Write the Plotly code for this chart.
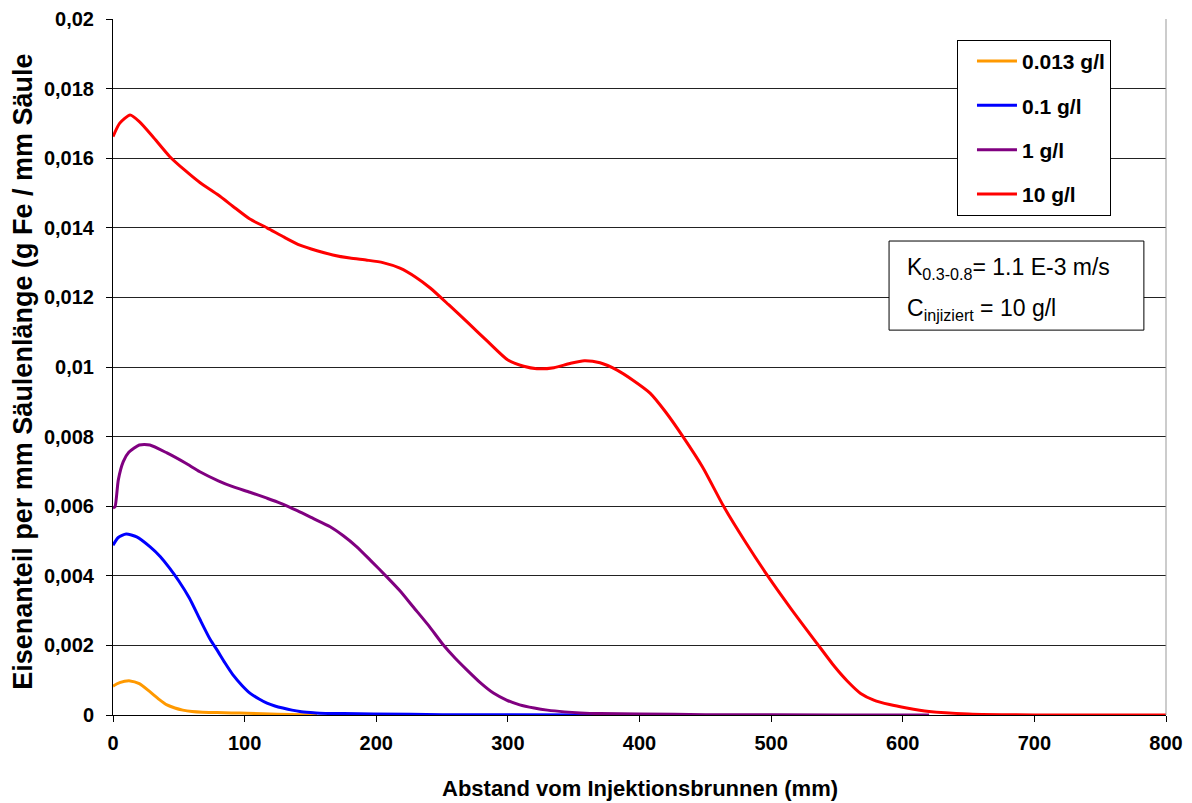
import plotly.graph_objects as go

# ---- data ----
series_names = ["0.013 g/l", "0.1 g/l", "1 g/l", "10 g/l"]
series_colors = ["#FF9900", "#0000FF", "#800080", "#FF0000"]

x_0013 = [0, 5, 13, 20, 28, 35, 41, 47, 53, 60, 68, 79, 90, 102, 125, 155]
y_0013 = [0.00083, 0.00093, 0.00098, 0.00090, 0.00067, 0.00045, 0.00029, 0.00020,
          0.00014, 0.00010, 0.00008, 0.00007, 0.00006, 0.00005, 0.00002, 0.0]

x_01 = [0, 4, 10, 18, 28, 36, 43, 50, 58, 66, 74, 79, 85, 91, 98, 104, 111, 117,
        123, 129, 136, 142, 150, 157, 175, 198, 250, 400]
y_01 = [0.00488, 0.00510, 0.00520, 0.00512, 0.00484, 0.00455, 0.00422, 0.00385,
        0.00336, 0.00275, 0.00216, 0.00187, 0.00150, 0.00116, 0.00085, 0.00063,
        0.00046, 0.00034, 0.00026, 0.00020, 0.00014, 0.00010, 0.00007, 0.00005,
        0.00004, 0.00003, 0.00001, 0.0]

x_1 = [0, 1.5, 4, 7.8, 12, 20, 28, 41, 55, 66, 80, 91, 104, 117, 127, 140, 152,
       165, 175, 185, 196, 208, 218, 228, 240, 251, 260, 269, 279, 289, 299, 309,
       320, 330, 343, 355, 370, 400, 450, 550, 620]
y_1 = [0.00595, 0.00598, 0.00675, 0.00728, 0.00755, 0.00776, 0.00776, 0.00753,
       0.00724, 0.00699, 0.00673, 0.00656, 0.00640, 0.00623, 0.00609, 0.00587,
       0.00565, 0.00541, 0.00515, 0.00484, 0.00443, 0.00397, 0.00357, 0.00311,
       0.00256, 0.00201, 0.00163, 0.00129, 0.00093, 0.00063, 0.00043, 0.00029,
       0.00020, 0.00014, 0.00009, 0.00006, 0.00004, 0.00003, 0.00001, 0.0, 0.0]

x_10 = [0, 5, 13, 20, 30, 43, 55, 66, 80, 91, 104, 117, 130, 142, 155, 167, 180,
        193, 205, 218, 230, 241, 255, 270, 285, 300, 312, 322, 335, 347, 358, 370,
        383, 395, 408, 420, 433, 448, 464, 480, 497, 515, 535, 548, 558, 568, 578,
        590, 603, 620, 650, 700, 800]
y_10 = [0.01662, 0.01700, 0.01724, 0.01705, 0.01663, 0.01605, 0.01564, 0.01530,
        0.01494, 0.01462, 0.01425, 0.01400, 0.01373, 0.01350, 0.01334, 0.01322,
        0.01313, 0.01307, 0.01300, 0.01284, 0.01258, 0.01227, 0.01179, 0.01126,
        0.01072, 0.01020, 0.01002, 0.00995, 0.00998, 0.01010, 0.01018, 0.01012,
        0.00991, 0.00962, 0.00925, 0.00870, 0.00800, 0.00712, 0.00599, 0.00500,
        0.00402, 0.00306, 0.00205, 0.00140, 0.00097, 0.00062, 0.00043, 0.00030,
        0.00020, 0.00010, 0.00003, 0.0, 0.0]

xs = [x_0013, x_01, x_1, x_10]
ys = [y_0013, y_01, y_1, y_10]

y_tickvals = [0, 0.002, 0.004, 0.006, 0.008, 0.01, 0.012, 0.014, 0.016, 0.018, 0.02]
y_ticktext = ["0", "0,002", "0,004", "0,006", "0,008", "0,01", "0,012", "0,014",
              "0,016", "0,018", "0,02"]
x_tickvals = [0, 100, 200, 300, 400, 500, 600, 700, 800]

x_title = "Abstand vom Injektionsbrunnen (mm)"
y_title = "Eisenanteil per mm Säulenlänge (g Fe / mm Säule"

FONT = "Liberation Sans, Arial, sans-serif"

fig = go.Figure()
for name, color, xv, yv in zip(series_names, series_colors, xs, ys):
    fig.add_trace(go.Scatter(
        x=xv, y=yv, mode="lines", name=name, legendgroup=name,
        line=dict(color=color, width=3, shape="spline", smoothing=0.6),
    ))

fig.update_layout(
    width=1192, height=803,
    margin=dict(l=105, r=34, t=11, b=96),
    paper_bgcolor="white", plot_bgcolor="white",
    font=dict(family=FONT, color="black"),
    showlegend=True,
    legend=dict(
        x=0.8015, y=0.970, xanchor="left", yanchor="top",
        bordercolor="black", borderwidth=1, bgcolor="white",
        font=dict(family=FONT, size=21, color="black", weight="bold"),
        tracegroupgap=14, itemwidth=40, indentation=14,
    ),
    xaxis=dict(
        range=[0, 800], tickvals=x_tickvals, ticks="outside", ticklen=6,
        tickcolor="black", showline=True, linecolor="black", linewidth=1,
        showgrid=False, zeroline=False, automargin=False, ticklabelstandoff=4,
        tickfont=dict(family=FONT, size=20, color="black", weight="bold"),
    ),
    yaxis=dict(
        range=[0, 0.02], tickvals=y_tickvals, ticktext=y_ticktext,
        ticks="outside", ticklen=6, tickcolor="black",
        showline=True, linecolor="black", linewidth=1, automargin=False,
        ticklabelstandoff=8,
        showgrid=True, gridcolor="#222222", gridwidth=1, zeroline=False,
        tickfont=dict(family=FONT, size=20, color="black", weight="bold"),
    ),
)

# axis titles
fig.add_annotation(xref="paper", yref="paper", x=0.5, y=-0.105,
                   xanchor="center", yanchor="middle", showarrow=False,
                   text=x_title,
                   font=dict(family=FONT, size=22, color="black", weight="bold"))
fig.add_annotation(xref="paper", yref="paper", x=-0.0856, y=0.493,
                   xanchor="center", yanchor="middle", showarrow=False,
                   textangle=-90, text=y_title,
                   font=dict(family=FONT, size=27, color="black", weight="bold"))

# right border
fig.add_shape(type="line", xref="paper", yref="paper", x0=1, x1=1, y0=0, y1=1,
              line=dict(color="#999999", width=1))

# parameter box
fig.add_shape(type="rect", xref="paper", yref="paper",
              x0=0.737, x1=0.979, y0=0.553, y1=0.681,
              line=dict(color="black", width=1), fillcolor="white", layer="above")
fig.add_annotation(xref="paper", yref="paper", x=0.752, y=0.642,
                   xanchor="left", yanchor="middle", showarrow=False,
                   text="K<sub>0.3-0.8</sub>= 1.1 E-3 m/s",
                   font=dict(family=FONT, size=23, color="black"))
fig.add_annotation(xref="paper", yref="paper", x=0.752, y=0.582,
                   xanchor="left", yanchor="middle", showarrow=False,
                   text="C<sub>injiziert</sub> = 10 g/l",
                   font=dict(family=FONT, size=23, color="black"))

fig.write_html("out.html")
